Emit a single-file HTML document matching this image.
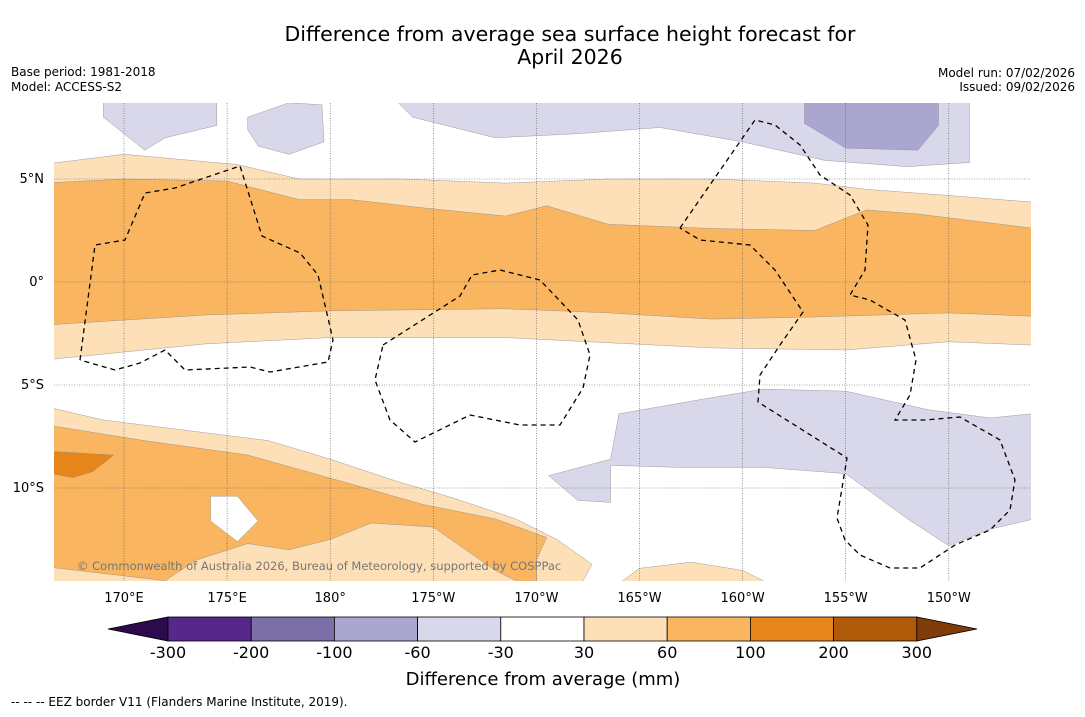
<!DOCTYPE html>
<html><head><meta charset="utf-8"><style>
body{margin:0;background:#fff;width:1085px;height:713px;overflow:hidden;font-family:"DejaVu Sans",sans-serif;}
</style></head><body>
<svg id="s" width="1085" height="713" xmlns="http://www.w3.org/2000/svg" font-family="DejaVu Sans, sans-serif">
<rect width="1085" height="713" fill="#fff"/>
<text x="570" y="41" font-size="20.5" text-anchor="middle">Difference from average sea surface height forecast for</text>
<text x="570" y="64" font-size="20.5" text-anchor="middle">April 2026</text>
<text x="11" y="76" font-size="12">Base period: 1981-2018</text>
<text x="11" y="91" font-size="12">Model: ACCESS-S2</text>
<text x="1075" y="77" font-size="12" text-anchor="end">Model run: 07/02/2026</text>
<text x="1075" y="91" font-size="12" text-anchor="end">Issued: 09/02/2026</text>
<defs><clipPath id="mc"><rect x="54" y="103" width="977" height="478"/></clipPath></defs>
<g id="map" clip-path="url(#mc)"></g>
<g id="grid"></g>
<g id="eez" clip-path="url(#mc)" fill="none" stroke="#000" stroke-width="1.3" stroke-dasharray="5,4">
<path d="M80,360 L95,245 L125,240 L145,193 L175,188 L240,166 L262,236 L300,253 L318,275 L328,318 L333,340 L328,362 L270,372 L250,367 L185,370 L165,350 L140,363 L115,370 L80,360"/>
<path d="M383,345 L460,296 L472,275 L500,270 L540,280 L578,320 L590,355 L583,388 L560,425 L520,425 L470,415 L415,442 L390,420 L375,380 L383,345"/>
<path d="M680,228 L755,120 L775,125 L800,145 L820,175 L850,195 L868,225 L865,270 L850,295 L870,300 L905,320 L916,360 L910,395 L895,420 L925,420 L960,417 L1000,440 L1015,480 L1010,510 L990,530 L955,545 L920,568 L890,568 L860,555 L845,540 L837,518 L847,458 L758,402 L760,375 L780,345 L803,312 L775,270 L750,245 L700,240 L680,228"/>
</g>
<g id="axes" font-size="13"></g>
<text x="77" y="570" font-size="11.5" fill="#777">© Commonwealth of Australia 2026, Bureau of Meteorology, supported by COSPPac</text>
<g id="cbar"></g>
<text x="543" y="685" font-size="18" text-anchor="middle">Difference from average (mm)</text>
<text x="11" y="706" font-size="12">--  --  -- EEZ border V11 (Flanders Marine Institute, 2019).</text>
</svg>
<script>
const NS="http://www.w3.org/2000/svg";
const lonTicks=[170,175,180,185,190,195,200,205,210];
const lonLabels=["170°E","175°E","180°","175°W","170°W","165°W","160°W","155°W","150°W"];
const latTicks=[5,0,-5,-10];
const latLabels=["5°N","0°","5°S","10°S"];
const levels=[-300,-200,-100,-60,-30,30,60,100,200,300];
const colors=["#2d0a4e","#56288a","#7c6fa8","#aba6cf","#d8d8ea","#ffffff","#fde0b8","#f9b560","#e6861a","#b15b0a","#7f3b08"];
const lightN=[[166,5.7],[170,6.2],[175.5,5.7],[178.5,5],[183.5,5],[188.5,4.8],[193.5,5],[198.5,5],[203.5,4.8],[206,4.5],[210,4.2],[215,3.8],[215,-3.1],[210,-2.9],[205,-3.3],[198.5,-3.2],[188.5,-2.7],[180,-2.7],[174,-3],[166,-3.8]];
const darkN=[[166,4.8],[170,5],[175,4.9],[178.5,4],[181,4],[184.5,3.6],[188.5,3.2],[190.5,3.7],[193.5,2.8],[198.5,2.6],[203.5,2.5],[206,3.5],[208.5,3.3],[215,2.5],[215,-1.7],[210,-1.5],[203.5,-1.7],[198.5,-1.8],[193.5,-1.5],[188.5,-1.3],[180,-1.4],[174,-1.6],[166,-2.1]];
const lightS=[[166,-6],[169,-6.7],[173,-7.2],[177,-7.7],[180,-8.6],[183,-9.6],[186,-10.5],[189,-11.5],[191,-12.5],[192.7,-13.7],[192,-15],[166,-15]];
const darkS=[[166,-6.9],[171,-7.7],[176,-8.4],[178.5,-9.1],[181,-9.8],[184.5,-10.8],[188,-11.5],[190.5,-12.4],[190,-13.5],[190,-15],[188,-14],[185,-11.9],[182,-11.7],[180,-12.5],[178,-13],[176,-12.7],[173.5,-13.5],[172,-14.5],[166,-13.8]];
const dark2=[[166,-8.2],[169.5,-8.4],[168.5,-9.2],[167.5,-9.5],[166,-9.2]];
const whiteIn=[[174.2,-10.4],[175.5,-10.4],[176.5,-11.6],[175.5,-12.6],[174.2,-11.6]];
const lightB=[[193.5,-15],[195,-13.9],[197.5,-13.6],[200,-14],[202,-15]];
const lav1=[[169,9],[174.5,9],[174.5,7.6],[172,7],[171,6.4],[169,8]];
const lav2=[[176,8],[178,8.7],[179.6,8.6],[179.7,6.8],[178,6.2],[176.5,6.6],[176,7.4]];
const lav3=[[183,9],[211,9],[211,5.8],[208,5.6],[204,5.9],[200,6.8],[196,7.5],[192,7.2],[188,7],[184,8]];
const pur1=[[203,9],[209.5,9],[209.5,7.6],[208.5,6.4],[205,6.5],[203,7.7]];
const lav4=[[190.6,-9.4],[193.6,-8.6],[194,-6.4],[198,-5.7],[201,-5.2],[205,-5.3],[209,-6.2],[212,-6.6],[215,-6.3],[215,-11.3],[212,-12],[210,-12.8],[208,-11.5],[205,-9.3],[201,-9],[197,-9],[193.6,-8.9],[193.6,-10.7],[192,-10.6]];
const polys=[[lightN,6],[darkN,7],[lightS,6],[darkS,7],[dark2,8],[whiteIn,5],[lightB,6],[lav1,4],[lav2,4],[lav3,4],[pur1,3],[lav4,4]];
function xOf(lon){return 124+(lon-170)*20.62;}
function yOf(lat){return 282-lat*20.6;}
const map=document.getElementById('map');
polys.forEach(function(p,i){
 const el=document.createElementNS(NS,'polygon');
 el.setAttribute('points',p[0].map(function(q){return xOf(q[0])+','+yOf(q[1]);}).join(' '));
 el.setAttribute('fill',colors[p[1]]);
 el.setAttribute('stroke','#888');el.setAttribute('stroke-width','0.4');
 
 
 map.appendChild(el);
});
const grid=document.getElementById('grid'),axes=document.getElementById('axes');
lonTicks.forEach(function(l,i){
 const ln=document.createElementNS(NS,'line');
 ln.setAttribute('x1',xOf(l));ln.setAttribute('x2',xOf(l));ln.setAttribute('y1',103);ln.setAttribute('y2',581);
 ln.setAttribute('stroke','#555');ln.setAttribute('stroke-width','0.6');ln.setAttribute('stroke-dasharray','1,1.5');
 
 
 grid.appendChild(ln);
 const t=document.createElementNS(NS,'text');
 t.setAttribute('x',xOf(l));t.setAttribute('y',602);t.setAttribute('text-anchor','middle');t.textContent=lonLabels[i];
 
 
 axes.appendChild(t);
});
latTicks.forEach(function(l,i){
 const ln=document.createElementNS(NS,'line');
 ln.setAttribute('x1',54);ln.setAttribute('x2',1031);ln.setAttribute('y1',yOf(l));ln.setAttribute('y2',yOf(l));
 ln.setAttribute('stroke','#555');ln.setAttribute('stroke-width','0.6');ln.setAttribute('stroke-dasharray','1,1.5');
 
 
 grid.appendChild(ln);
 const t=document.createElementNS(NS,'text');
 t.setAttribute('x',44);t.setAttribute('y',yOf(l)+4);t.setAttribute('text-anchor','end');t.textContent=latLabels[i];
 
 
 axes.appendChild(t);
});
const cb=document.getElementById('cbar');
const x0=168,w=83.2,yb=617,h=24;
const tl=document.createElementNS(NS,'polygon');
tl.setAttribute('points',x0+','+yb+' '+x0+','+(yb+h)+' 108,'+(yb+h/2));tl.setAttribute('fill',colors[0]);tl.setAttribute('stroke','#000');tl.setAttribute('stroke-width','0.8');


cb.appendChild(tl);
for(let i=0;i<levels.length-1;i++){
 const r=document.createElementNS(NS,'rect');
 r.setAttribute('x',x0+i*w);r.setAttribute('y',yb);r.setAttribute('width',w);r.setAttribute('height',h);
 r.setAttribute('fill',colors[i+1]);r.setAttribute('stroke','#000');r.setAttribute('stroke-width','0.8');
 
 
 cb.appendChild(r);
}
const xe=x0+(levels.length-1)*w;
const tr=document.createElementNS(NS,'polygon');
tr.setAttribute('points',xe+','+yb+' '+xe+','+(yb+h)+' 977,'+(yb+h/2));tr.setAttribute('fill',colors[colors.length-1]);tr.setAttribute('stroke','#000');tr.setAttribute('stroke-width','0.8');


cb.appendChild(tr);
levels.forEach(function(v,i){
 const t=document.createElementNS(NS,'text');
 t.setAttribute('x',x0+i*w);t.setAttribute('y',658);t.setAttribute('text-anchor','middle');t.setAttribute('font-size','16');t.textContent=v;
 
 
 cb.appendChild(t);
});
</script>
</body></html>
